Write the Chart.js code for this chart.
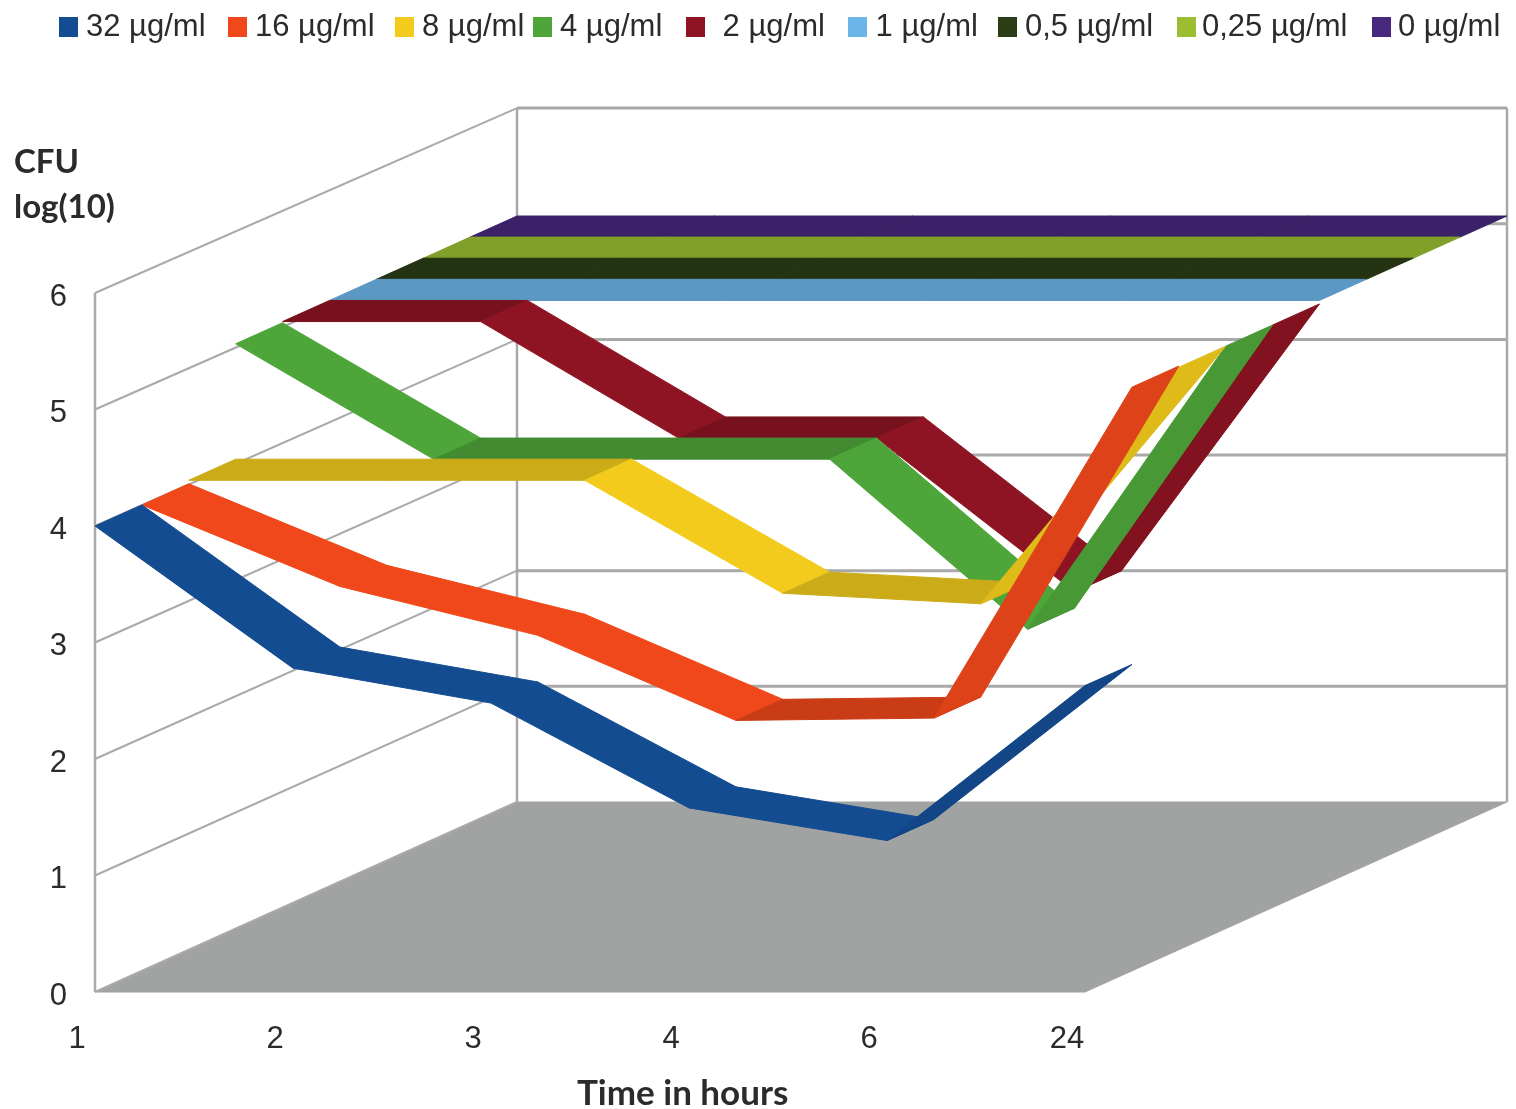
<!DOCTYPE html>
<html>
<head>
<meta charset="utf-8">
<title>CFU over time</title>
<script src="https://cdn.jsdelivr.net/npm/chart.js@4"></script>
<style>
    html, body { margin: 0; padding: 0; background: #fff; }
    canvas { display: block; filter: blur(0.6px); }
</style>
</head>
<body>
<canvas id="chart" width="1516" height="1109"></canvas>
<script>
// Data
const hours = ['1', '2', '3', '4', '6', '24'];
const concentrations = ['32 µg/ml', '16 µg/ml', '8 µg/ml', '4 µg/ml', ' 2 µg/ml', ' 1 µg/ml', '0,5 µg/ml', '0,25 µg/ml', '0 µg/ml'];
const cfu32 = [4, 2.78, 2.48, 1.58, 1.3, 2.63];
const cfu16 = [4, 3.3, 2.88, 2.15, 2.17, 5.01];
const cfu8 = [4.03, 4.03, 4.03, 3.06, 2.97, 5.0];
const cfu4 = [5.02, 4.03, 4.03, 4.03, 2.57, 5.0];
const cfu2 = [5.03, 5.03, 4.03, 4.03, 2.71, 5.0];
const cfu1 = [5.03, 5.03, 5.03, 5.03, 5.03, 5.03];
const cfu05 = [5.03, 5.03, 5.03, 5.03, 5.03, 5.03];
const cfu025 = [5.03, 5.03, 5.03, 5.03, 5.03, 5.03];
const cfu0 = [5.03, 5.03, 5.03, 5.03, 5.03, 5.03];
const yTicks = [0, 1, 2, 3, 4, 5, 6];

const allSeries = [cfu32, cfu16, cfu8, cfu4, cfu2, cfu1, cfu05, cfu025, cfu0];
const colors = ['#144c92', '#f0481a', '#f2cb1c', '#4ea53a', '#8e1423', '#6cb5e8', '#2b3d15', '#9bbd32', '#46297c'];

// 3D look
const depthX = 422 / 9;
const depthY = 190 / 9;
const wallColor = '#a9a9a9';
const floorColor = '#a0a3a2';
const textColor = '#2b2b2b';
const legendFont = '31px "Liberation Sans"';
const legendBoxX = [59, 228, 395, 533, 686, 848, 998, 1177, 1372];
const legendTextX = [86, 255, 422, 560, 714, 867, 1025, 1202, 1398];

function shade(hex, f) {
    const n = parseInt(hex.slice(1), 16);
    const r = Math.round((n >> 16) * f);
    const g = Math.round(((n >> 8) & 255) * f);
    const b = Math.round((n & 255) * f);
    return `rgb(${r},${g},${b})`;
}

function polygon(ctx, pts, fill) {
    ctx.beginPath();
    pts.forEach((p, i) => i ? ctx.lineTo(p[0], p[1]) : ctx.moveTo(p[0], p[1]));
    ctx.closePath();
    ctx.fillStyle = fill;
    ctx.fill();
    ctx.strokeStyle = fill;
    ctx.lineWidth = 1;
    ctx.stroke();
}

const ribbonPlugin = {
    id: 'ribbons',
    beforeDatasetsDraw(chart) {
        const ctx = chart.ctx;
        const xs = chart.scales.x;
        const ys = chart.scales.y;
        const left = xs.getPixelForValue(0);
        const right = xs.getPixelForValue(hours.length - 1);
        const fullX = depthX * 9;
        const fullY = depthY * 9;
        // back wall is a bit shorter than the front edge
        const backY = v => ys.getPixelForValue(v) - fullY + v * 0.85;

        ctx.save();
        polygon(ctx, [
            [left, ys.getPixelForValue(0)],
            [right, ys.getPixelForValue(0)],
            [right + fullX, backY(0)],
            [left + fullX, backY(0)]
        ], floorColor);

        ctx.strokeStyle = wallColor;
        yTicks.forEach(v => {
            ctx.lineWidth = 2;
            ctx.beginPath();
            ctx.moveTo(left, ys.getPixelForValue(v));
            ctx.lineTo(left + fullX, backY(v));
            ctx.stroke();
            if (v > 0) {
                ctx.lineWidth = 3;
                ctx.beginPath();
                ctx.moveTo(left + fullX, backY(v));
                ctx.lineTo(right + fullX, backY(v));
                ctx.stroke();
            }
        });
        ctx.lineWidth = 2.5;
        [[left, ys.getPixelForValue(0), ys.getPixelForValue(6)],
         [left + fullX, backY(0), backY(6)],
         [right + fullX, backY(0), backY(6)]].forEach(l => {
            ctx.beginPath();
            ctx.moveTo(l[0], l[1]);
            ctx.lineTo(l[0], l[2]);
            ctx.stroke();
        });

        // back to front, so the 32 µg/ml ribbon ends up on top
        for (let d = chart.data.datasets.length - 1; d >= 0; d--) {
            const values = chart.data.datasets[d].data;
            const color = colors[d];
            const ox = d * depthX;
            const oy = d * depthY;
            for (let i = 0; i < values.length - 1; i++) {
                const x0 = xs.getPixelForValue(i) + ox;
                const x1 = xs.getPixelForValue(i + 1) + ox;
                const y0 = ys.getPixelForValue(values[i]) - oy;
                const y1 = ys.getPixelForValue(values[i + 1]) - oy;
                const diff = values[i + 1] - values[i];
                let f = 1;
                if (Math.abs(diff) < 0.15) f = 0.84;
                else if (diff > 0) f = 0.92;
                polygon(ctx, [
                    [x0, y0],
                    [x1, y1],
                    [x1 + depthX, y1 - depthY],
                    [x0 + depthX, y0 - depthY]
                ], shade(color, f));
            }
        }
        ctx.restore();
    },
    afterDraw(chart) {
        const ctx = chart.ctx;
        ctx.save();
        ctx.textBaseline = 'middle';
        ctx.textAlign = 'left';

        // legend
        ctx.font = legendFont;
        chart.data.datasets.forEach((ds, i) => {
            ctx.fillStyle = ds.backgroundColor;
            ctx.fillRect(legendBoxX[i], 17, 19, 20);
            ctx.fillStyle = textColor;
            ctx.fillText(ds.label, legendTextX[i], 27);
        });

        // axis titles
        ctx.font = 'bold 33px Lato';
        ctx.fillStyle = textColor;
        ctx.fillText('CFU', 14, 162);
        ctx.fillText('log(10)', 14, 207);
        ctx.font = 'bold 35px Lato';
        ctx.fillText('Time in hours', 577, 1094);
        ctx.restore();
    }
};

new Chart(document.getElementById('chart').getContext('2d'), {
    type: 'line',
    data: {
        labels: hours,
        datasets: allSeries.map((values, i) => ({
            label: concentrations[i],
            data: values,
            backgroundColor: colors[i],
            borderColor: colors[i],
            showLine: false,
            pointRadius: 0
        }))
    },
    options: {
        responsive: false,
        animation: false,
        layout: { padding: { top: 293, right: 431, bottom: 0, left: 0 } },
        plugins: {
            legend: { display: false },
            tooltip: { enabled: false }
        },
        scales: {
            x: {
                type: 'category',
                offset: false,
                grid: { display: false },
                border: { display: false },
                afterFit: s => { s.height = 117; },
                ticks: {
                    color: textColor,
                    font: { family: 'Liberation Sans', size: 31 },
                    padding: 21,
                    labelOffset: -18,
                    maxRotation: 0,
                    autoSkip: false
                }
            },
            y: {
                min: 0,
                max: 6,
                grid: { display: false },
                border: { display: false },
                afterFit: s => { s.width = 95; },
                ticks: {
                    color: textColor,
                    font: { family: 'Liberation Sans', size: 31 },
                    padding: 20,
                    labelOffset: 4,
                    stepSize: 1
                }
            }
        }
    },
    plugins: [ribbonPlugin]
});
</script>
</body>
</html>
